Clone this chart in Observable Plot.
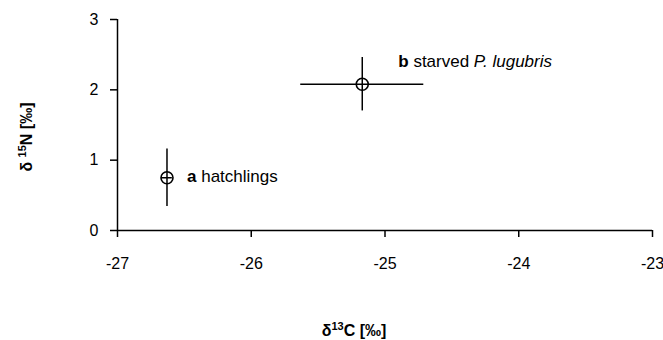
<!DOCTYPE html>
<html>
<head>
<meta charset="utf-8">
<script src="https://cdn.jsdelivr.net/npm/d3@7"></script>
<script src="https://cdn.jsdelivr.net/npm/@observablehq/plot@0.6"></script>
<style>
  html, body { margin: 0; padding: 0; background: #fff; }
  #chart { width: 663px; height: 340px; }
</style>
</head>
<body>
<div id="chart"></div>
<script>
// ---- data ----
const groupLetters = ["a", "b"];
const groupNames = ["hatchlings", "starved"];
const groupSpecies = ["", "P. lugubris"];
const d13C = [-26.63, -25.17];
const d13C_err = [0.04, 0.46];
const d15N = [0.75, 2.08];
const d15N_err = [0.41, 0.38];
const xTicks = [-27, -26, -25, -24, -23];
const yTicks = [0, 1, 2, 3];
// axis titles: [prefix, superscript, suffix]
const xTitleParts = ["δ", "13", "C [‰]"];
const yTitleParts = ["δ ", "15", "N [‰]"];

const rows = groupLetters.map((g, i) => ({
  letter: g, name: groupNames[i], species: groupSpecies[i],
  x: d13C[i], ex: d13C_err[i], y: d15N[i], ey: d15N_err[i]
}));
const labelText = d => d.letter + " " + d.name + (d.species ? " " + d.species : "");
const titleText = p => p.join("");

const chart = Plot.plot({
  width: 663,
  height: 340,
  marginLeft: 117,
  marginRight: 11,
  marginTop: 19,
  marginBottom: 110,
  style: { fontFamily: "'Liberation Sans', Arial, sans-serif", fontSize: "16px", background: "#fff", color: "#000", overflow: "visible" },
  x: { domain: [-27, -23] },
  y: { domain: [0, 3] },
  marks: [
    Plot.axisX({ ticks: xTicks, tickFormat: d => String(d), tickSize: 7, tickPadding: 20, strokeWidth: 1.5, label: null, fontSize: 16 }),
    Plot.axisY({ ticks: yTicks, tickFormat: d => String(d), tickSize: 7, tickPadding: 12, strokeWidth: 1.5, label: null, fontSize: 16 }),
    Plot.ruleY([0], { stroke: "#000", strokeWidth: 1.5 }),
    Plot.ruleX([-27], { stroke: "#000", strokeWidth: 1.5 }),
    Plot.ruleX(rows, { x: "x", y1: d => d.y - d.ey, y2: d => d.y + d.ey, stroke: "#000", strokeWidth: 1.5 }),
    Plot.ruleY(rows, { y: "y", x1: d => d.x - d.ex, x2: d => d.x + d.ex, stroke: "#000", strokeWidth: 1.5 }),
    Plot.dot(rows, { x: "x", y: "y", r: 6, stroke: "#000", strokeWidth: 1.6, fill: "none" }),
    Plot.text([rows[0]], { x: "x", y: "y", text: labelText, textAnchor: "start", dx: 20, dy: -1, fontSize: 17, className: "ptlabel" }),
    Plot.text([rows[1]], { x: "x", y: "y", text: labelText, textAnchor: "start", dx: 36, dy: -23, fontSize: 17, className: "ptlabel" }),
    Plot.text([xTitleParts], { text: titleText, frameAnchor: "bottom", textAnchor: "middle", lineAnchor: "middle", dx: -31, dy: 100, fontWeight: "bold", fontSize: 16, className: "axtitle" }),
    Plot.text([yTitleParts], { text: titleText, frameAnchor: "left", rotate: -90, textAnchor: "middle", lineAnchor: "middle", dx: -91, dy: 12, fontWeight: "bold", fontSize: 16, className: "axtitle" })
  ]
});

// mixed styling of the point labels (bold letter, italic species)
d3.select(chart).selectAll("g.ptlabel text").each(function () {
  const full = this.textContent;
  const row = rows.find(r => labelText(r) === full);
  if (!row) return;
  const t = d3.select(this);
  t.text(null);
  t.append("tspan").attr("font-weight", "bold").text(row.letter);
  t.append("tspan").text(" " + row.name + (row.species ? " " : ""));
  if (row.species) t.append("tspan").attr("font-style", "italic").text(row.species);
});

// superscripts in the axis titles
d3.select(chart).selectAll("g.axtitle text").each(function () {
  const full = this.textContent;
  const parts = [xTitleParts, yTitleParts].find(p => titleText(p) === full);
  if (!parts) return;
  const t = d3.select(this);
  t.text(null);
  t.append("tspan").text(parts[0]);
  t.append("tspan").attr("font-size", 11).attr("dy", -6).text(parts[1]);
  t.append("tspan").attr("dy", 6).text(parts[2]);
});

document.getElementById("chart").append(chart);
</script>
</body>
</html>
